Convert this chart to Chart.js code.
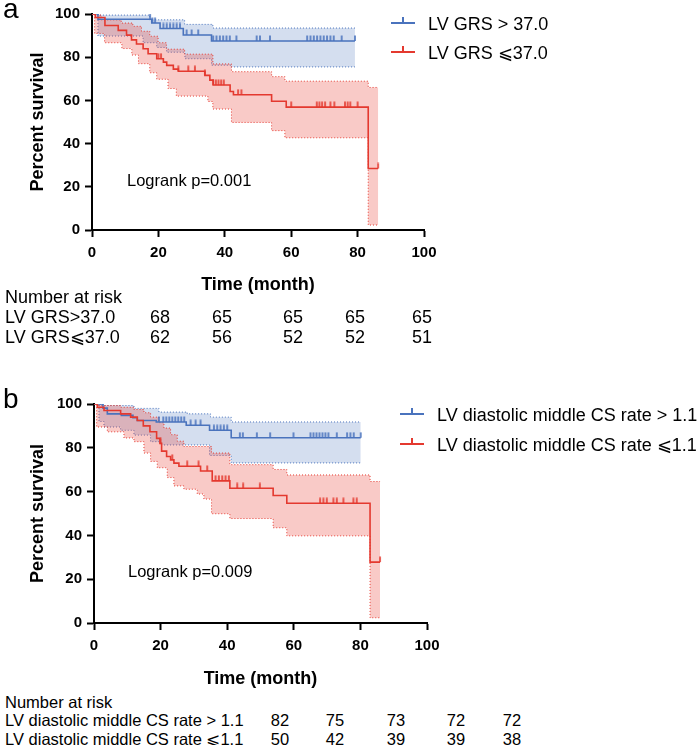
<!DOCTYPE html>
<html lang="en">
<head>
<meta charset="UTF-8">
<title>Kaplan-Meier survival</title>
<script src="https://cdn.jsdelivr.net/npm/chart.js"></script>
<style>
    body { margin: 0; background: #fff; }
    #page { position: relative; width: 700px; height: 745px; overflow: hidden;
            font-family: "Liberation Sans", Arial, Helvetica, sans-serif; color: #000; }
    #page canvas { position: absolute; left: 0; }
    .txt { position: absolute; white-space: nowrap; line-height: 1; }
    .key { position: absolute; width: 24px; height: 2px; }
    .key::after { content: ""; position: absolute; left: 11px; top: -5px; width: 2px; height: 5px; background: inherit; }
    .num { text-align: center; width: 40px; }
</style>
</head>
<body>
<div id="page">
    <canvas id="chartA" width="460" height="300" style="top:0"></canvas>
    <canvas id="chartB" width="463" height="300" style="top:390px"></canvas>
</div>
<script>
// ---- data ----
const timeTicks = [0, 20, 40, 60, 80, 100];
const survTicks = [0, 20, 40, 60, 80, 100];

// panel a: LV GRS
const grsLabels = ['LV GRS > 37.0', 'LV GRS \u2A7D37.0'];
const grsHigh = [[0, 100], [1.8, 97.6], [18, 95.8], [20.5, 93.3], [27.5, 90.3], [36, 87.5], [79.2, 87.5]];
const grsHighUpper = [[0, 100], [1.8, 99.5], [17.4, 97.3], [27.9, 95.2], [36.4, 93.5], [79.2, 93.5]];
const grsHighLower = [[0, 100], [1.8, 89.8], [15.4, 86.7], [19.5, 84.5], [22.5, 82.3], [28, 79.3], [36, 76.3], [42, 75.5], [79.2, 75.5]];
const grsHighCensored = [17.5, 18.2, 19, 21.5, 22.5, 23.5, 24.5, 25.5, 26.5, 28.5, 30, 32, 36.5, 37.5, 38.5, 39.5, 40.5, 41.5, 43.5,
    49.6, 50.6, 53.6, 64.8, 65.8, 66.8, 67.8, 68.8, 69.8, 70.8, 71.8, 72.8, 75.2, 79.2];
const grsLow = [[0, 100], [1, 98.4], [3.9, 94.7], [7.9, 92.4], [10.4, 90.2], [11.9, 88], [13.4, 86.1], [15.4, 83.9], [16.9, 81.6],
    [19.5, 79.3], [21.5, 77.7], [22.5, 76.2], [24.5, 74.5], [26, 73.5], [34, 71.6], [35.5, 69.4], [36.5, 67.1], [41.6, 64.1],
    [42.6, 62.6], [54.1, 59.6], [58.5, 56.9], [83.2, 28.5], [86.2, 28.5]];
const grsLowUpper = [[0, 100], [1, 99.5], [2.8, 97.3], [8.8, 95.8], [12.3, 94.3], [14.9, 92], [17.4, 89.7], [19.9, 86.7],
    [22.4, 83.7], [27.9, 81.4], [36.4, 76.9], [42, 73.3], [54.1, 71], [58.1, 68.9], [83.2, 66], [86.2, 66]];
const grsLowLower = [[0, 100], [0.8, 91], [3.8, 86.7], [9, 84], [12, 81], [14, 77], [17.4, 72.8], [19.5, 69.8], [22.9, 65.5],
    [25.4, 62], [34.9, 59.5], [36.4, 56], [42, 49.8], [54.1, 46], [58.1, 42.7], [83.2, 2.3], [86.2, 2.3]];
const grsLowCensored = [20, 20.8, 26, 29, 31, 34, 36.5, 37.3, 38.1, 38.9, 39.7, 44, 45, 60, 67.7, 68.5, 69.3, 70.2, 71.8, 73,
    76.2, 77, 77.8, 80, 86.2];
const grsRiskRows = ['LV GRS>37.0', 'LV GRS\u2A7D37.0'];
const grsRiskHigh = [68, 65, 65, 65, 65];
const grsRiskLow = [62, 56, 52, 52, 51];

// panel b: LV diastolic middle CS rate
const csLabels = ['LV diastolic middle CS rate > 1.1', 'LV diastolic middle CS rate \u2A7D1.1'];
const csHigh = [[0, 100], [2.7, 98.1], [4, 95.5], [8.2, 94.8], [11.7, 93.7], [13, 92.5], [18.7, 91.8], [27.7, 90.3],
    [34.7, 88], [41.2, 84.6], [80.1, 84.6]];
const csHighUpper = [[0, 100], [2.7, 99.3], [12, 98], [19.5, 96.3], [28, 95.5], [35, 94], [41.2, 91.8], [80.1, 91.8]];
const csHighLower = [[0, 100], [1.5, 92], [3, 89.5], [8, 88], [12, 85.8], [17, 82.8], [20, 81.3], [34.7, 76.5], [41.2, 73.1], [80.1, 73.1]];
const csHighCensored = [19.5, 20.8, 21.7, 22.6, 23.5, 24.4, 25.3, 26.2, 27.1, 29, 30.5, 32, 36, 37, 38, 39, 40, 43.8, 44.7,
    48.9, 52.9, 59.9, 65, 65.9, 66.8, 67.7, 68.6, 69.5, 70.4, 72.9, 76, 77, 78, 80.1];
const csLow = [[0, 100], [1, 98.5], [3, 97], [8, 95.5], [11, 94], [13, 92.5], [14.8, 90], [16.8, 87.3], [18.8, 84.3],
    [19.8, 82], [20.3, 78.5], [21.8, 76], [23, 74.5], [24, 73], [25.5, 71.6], [32, 69.4], [35.5, 64.9], [40.8, 61.5],
    [53.8, 58.2], [57.9, 54.7], [82.9, 27.8], [85.9, 27.8]];
const csLowUpper = [[0, 100], [1, 99.3], [8, 98.5], [12, 97.5], [15, 96], [17, 94], [19.5, 91.5], [21, 89], [23, 86],
    [25, 83], [27, 80.6], [35.3, 77.6], [40.8, 72.3], [53.8, 70.1], [57.9, 67.6], [82.9, 64.6], [85.9, 64.6]];
const csLowLower = [[0, 100], [0.8, 89.5], [4, 87.3], [9, 84.5], [12, 82.8], [15, 77.6], [17, 73.8], [19, 70.9], [22, 66.4],
    [24, 62.6], [27, 61.1], [31, 58.9], [33, 56.6], [35.3, 49.9], [40.8, 47.7], [53.8, 43.5], [57.9, 39.8], [82.9, 2.4], [85.9, 2.4]];
const csLowCensored = [20, 23.5, 28, 31.4, 34, 36.5, 37.5, 38.5, 39.5, 40.5, 43, 44.8, 49.8, 67.9, 68.9, 69.9, 71.9, 72.9,
    74.9, 77.9, 78.9, 85.9];
const csRiskRows = ['LV diastolic middle CS rate > 1.1', 'LV diastolic middle CS rate \u2A7D1.1'];
const csRiskHigh = [82, 75, 73, 72, 72];
const csRiskLow = [50, 42, 39, 39, 38];

// ---- styling ----
const FONT = '"Liberation Sans", Arial, Helvetica, sans-serif';
const BLUE = '#4a73bd';
const RED = '#e4392f';
const BLUE_FILL = 'rgba(74, 115, 189, 0.24)';
const RED_FILL = 'rgba(236, 72, 62, 0.29)';

function tickImage(color) {
    // small upward censor mark, drawn so the point sits at its foot
    const c = document.createElement('canvas');
    c.width = 4;
    c.height = 12;
    const g = c.getContext('2d');
    g.fillStyle = color;
    g.fillRect(1.2, 0.5, 1.6, 5.5);
    return c;
}
const blueTick = tickImage(BLUE);
const redTick = tickImage(RED);

function pts(steps) {
    return steps.map(p => ({ x: p[0], y: p[1] }));
}

function survivalAt(steps, t) {
    let s = steps[0][1];
    for (const p of steps) {
        if (p[0] <= t) s = p[1];
    }
    return s;
}

function band(steps, color, fillColor, fill, order) {
    return {
        data: pts(steps), stepped: true, borderColor: color, borderWidth: 1, borderDash: [1, 2],
        backgroundColor: fillColor, fill: fill, pointRadius: 0, order: order
    };
}

function curve(steps, color, order) {
    return {
        data: pts(steps), stepped: true, borderColor: color, borderWidth: 1.6,
        fill: false, pointRadius: 0, order: order
    };
}

function censors(steps, times, img) {
    return {
        data: times.map(t => ({ x: t, y: survivalAt(steps, t) })), showLine: false,
        pointStyle: img, pointRadius: 4, order: 0
    };
}

function kmChart(id, s, box) {
    const datasets = [
        band(s.highUpper, BLUE, BLUE_FILL, '+1', 4),
        band(s.highLower, BLUE, BLUE_FILL, false, 4),
        band(s.lowUpper, RED, RED_FILL, '+1', 3),
        band(s.lowLower, RED, RED_FILL, false, 3),
        curve(s.high, BLUE, 2),
        curve(s.low, RED, 1),
        censors(s.high, s.highCens, blueTick),
        censors(s.low, s.lowCens, redTick)
    ];
    const axisGrid = { drawOnChartArea: false, drawTicks: true, tickLength: 7, tickWidth: 2, tickColor: '#000' };
    return new Chart(document.getElementById(id), {
        type: 'line',
        data: { datasets: datasets },
        options: {
            responsive: false,
            animation: false,
            events: [],
            layout: { padding: { top: box.top, right: box.right, left: 0, bottom: 0 } },
            plugins: { legend: { display: false }, tooltip: { enabled: false } },
            scales: {
                x: {
                    type: 'linear', min: 0, max: 100,
                    afterFit: sc => { sc.height = box.xHeight; },
                    afterBuildTicks: sc => { sc.ticks = timeTicks.map(v => ({ value: v })); },
                    ticks: { color: '#000', padding: 7, maxRotation: 0, font: { family: FONT, size: 15, weight: 'bold' } },
                    grid: axisGrid,
                    border: { color: '#000', width: 2 },
                    title: {
                        display: true, text: 'Time (month)', color: '#000',
                        font: { family: FONT, size: 18, weight: 'bold' },
                        padding: { top: 0, bottom: box.xTitlePad }
                    }
                },
                y: {
                    type: 'linear', min: 0, max: 100,
                    afterFit: sc => { sc.width = box.yWidth; },
                    afterBuildTicks: sc => { sc.ticks = survTicks.map(v => ({ value: v })); },
                    ticks: { color: '#000', padding: 5, font: { family: FONT, size: 15, weight: 'bold' } },
                    grid: axisGrid,
                    border: { color: '#000', width: 2 },
                    title: {
                        display: true, text: 'Percent survival', color: '#000',
                        font: { family: FONT, size: 18, weight: 'bold' },
                        padding: { top: 27, bottom: 0 }
                    }
                }
            }
        }
    });
}

kmChart('chartA', {
    high: grsHigh, highUpper: grsHighUpper, highLower: grsHighLower, highCens: grsHighCensored,
    low: grsLow, lowUpper: grsLowUpper, lowLower: grsLowLower, lowCens: grsLowCensored
}, { top: 9, right: 36, yWidth: 92, xHeight: 70, xTitlePad: 4 });

kmChart('chartB', {
    high: csHigh, highUpper: csHighUpper, highLower: csHighLower, highCens: csHighCensored,
    low: csLow, lowUpper: csLowUpper, lowLower: csLowLower, lowCens: csLowCensored
}, { top: 10, right: 36, yWidth: 94, xHeight: 67, xTitlePad: 0 });

// ---- text around the plots ----
const page = document.getElementById('page');

function addText(text, left, centerY, size, extra) {
    const d = document.createElement('div');
    d.className = 'txt' + (extra ? ' ' + extra : '');
    d.textContent = text;
    d.style.fontSize = size + 'px';
    d.style.left = left + 'px';
    d.style.top = (centerY - size / 2) + 'px';
    page.appendChild(d);
    return d;
}

function addKey(left, centerY, color) {
    const k = document.createElement('div');
    k.className = 'key';
    k.style.left = left + 'px';
    k.style.top = (centerY - 1) + 'px';
    k.style.background = color;
    page.appendChild(k);
}

function addRiskTable(title, rows, values, top, rowGap, size, cols) {
    addText(title, 5, top, size);
    rows.forEach((r, i) => {
        const y = top + rowGap * (i + 1);
        addText(r, 5, y, size);
        values[i].forEach((v, j) => addText(String(v), cols[j] - 20, y, size, 'num'));
    });
}

// panel letters
addText('a', 3, 9, 28);
addText('b', 3, 399, 28);

// legends
addKey(391, 23, BLUE); addText(grsLabels[0], 428, 24, 18);
addKey(391, 52, RED);  addText(grsLabels[1], 428, 53, 18);
addKey(400, 414, BLUE); addText(csLabels[0], 437, 415, 18);
addKey(400, 444, RED);  addText(csLabels[1], 437, 445, 18);

// log-rank annotations
addText('Logrank p=0.001', 127, 180, 16.5);
addText('Logrank p=0.009', 128, 571, 16.5);

// numbers at risk
addRiskTable('Number at risk', grsRiskRows, [grsRiskHigh, grsRiskLow], 297, 20, 18, [160, 222, 293, 355, 422]);
addRiskTable('Number at risk', csRiskRows, [csRiskHigh, csRiskLow], 702, 18.5, 16.5, [280, 335, 396, 456, 512]);
</script>
</body>
</html>
